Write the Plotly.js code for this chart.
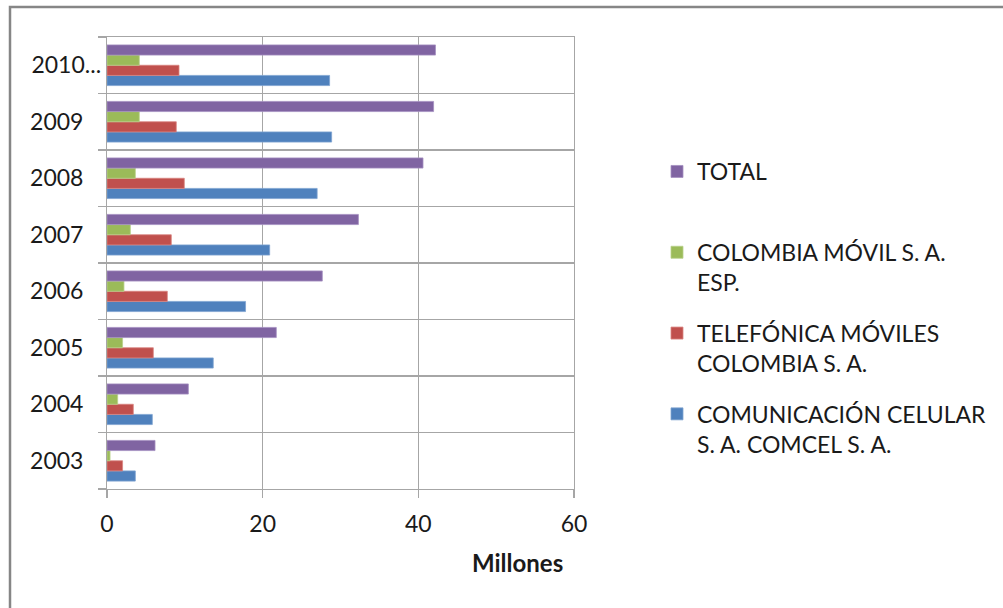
<!DOCTYPE html>
<html>
<head>
<meta charset="utf-8">
<script src="https://cdn.plot.ly/plotly-3.0.1.min.js"></script>
<style>html,body{margin:0;padding:0;background:#fff;overflow:hidden}</style>
</head>
<body>
<div id="chart" style="width:1003px;height:608px"></div>
<script>
const years = ["2003", "2004", "2005", "2006", "2007", "2008", "2009", "2010"];
const yearLabels = ["2003\u00a0\u00a0\u00a0", "2004\u00a0\u00a0\u00a0", "2005\u00a0\u00a0\u00a0", "2006\u00a0\u00a0\u00a0", "2007\u00a0\u00a0\u00a0", "2008\u00a0\u00a0\u00a0", "2009\u00a0\u00a0\u00a0", "2010..."];
const comcel = [3.64, 5.82, 13.65, 17.8, 20.9, 27.0, 28.86, 28.6];
const telefonica = [2.0, 3.38, 5.95, 7.75, 8.26, 9.93, 8.9, 9.25];
const colombiaMovil = [0.39, 1.37, 2.0, 2.18, 3.0, 3.64, 4.15, 4.15];
const total = [6.17, 10.45, 21.75, 27.66, 32.3, 40.6, 41.96, 42.2];
const xTicks = [0, 20, 40, 60];

const names = [
  "COMUNICACIÓN CELULAR<br>S. A. COMCEL S. A.",
  "TELEFÓNICA MÓVILES<br>COLOMBIA S. A.",
  "COLOMBIA MÓVIL S. A.<br>ESP.",
  "TOTAL<br>\u00a0"
];
const colors = ["#4F81BD", "#C0504D", "#9BBB59", "#8064A2"];
const lineColors = ["#7FA3D1", "#D98582", "#B9D18A", "#A48FC0"];
const ranks = [4, 3, 2, 1];
const series = [comcel, telefonica, colombiaMovil, total];

const traces = series.map((vals, i) => ({
  type: "bar",
  orientation: "h",
  y: years,
  x: vals,
  name: names[i],
  legendgroup: "g" + i,
  legendrank: ranks[i],
  marker: {color: colors[i], line: {color: lineColors[i], width: 0.8}},
  hoverinfo: "x+y"
}));

const L = 107, R = 574, T = 37, B = 489;
const W = 1003, H = 608;
const pw = R - L, ph = B - T;
const px = v => (v - L) / pw;
const py = v => (B - v) / ph;

const layout = {
  width: W, height: H,
  margin: {l: L, r: W - R, t: T, b: H - B, pad: 0, autoexpand: false},
  paper_bgcolor: "#ffffff",
  plot_bgcolor: "#ffffff",
  font: {family: "Lato, 'Open Sans', sans-serif", size: 23, color: "#1a1a1a"},
  barmode: "group",
  bargap: 0.28,
  bargroupgap: 0,
  showlegend: true,
  legend: {
    x: px(657), xanchor: "left",
    y: py(150), yanchor: "top",
    traceorder: "grouped",
    tracegroupgap: 18,
    valign: "top",
    font: {family: "Lato, 'Open Sans', sans-serif", size: 23, color: "#1a1a1a"},
    bgcolor: "rgba(0,0,0,0)"
  },
  xaxis: {
    range: [0, 60],
    tickvals: xTicks,
    ticktext: xTicks.map(String),
    showgrid: true,
    gridcolor: "#a6a6a6",
    gridwidth: 1.3,
    zeroline: false,
    showline: true,
    linecolor: "#a6a6a6",
    linewidth: 1.3,
    mirror: true,
    ticks: "outside",
    ticklen: 8,
    tickwidth: 1.3,
    tickcolor: "#a6a6a6",
    ticklabelstandoff: 6,
    tickfont: {size: 23, color: "#1a1a1a"},
    fixedrange: true
  },
  yaxis: {
    type: "category",
    tickvals: years,
    ticktext: yearLabels,
    tickson: "boundaries",
    showgrid: true,
    gridcolor: "#a6a6a6",
    gridwidth: 1.3,
    showline: true,
    linecolor: "#a6a6a6",
    linewidth: 1.3,
    mirror: true,
    ticks: "outside",
    ticklen: 8,
    tickwidth: 1.3,
    tickcolor: "#a6a6a6",
    ticklabelstandoff: 0,
    tickfont: {size: 23, color: "#1a1a1a"},
    fixedrange: true
  },
  annotations: [{
    text: "<b>Millones</b>",
    xref: "paper", yref: "paper",
    x: px(517), y: py(562),
    xanchor: "center", yanchor: "middle",
    showarrow: false,
    font: {family: "Lato, 'Open Sans', sans-serif", size: 24, color: "#1a1a1a"}
  }],
  shapes: [{
    type: "rect", xref: "paper", yref: "paper",
    x0: px(10), x1: px(1100), y0: py(700), y1: py(7),
    line: {color: "#868686", width: 2.5},
    fillcolor: "rgba(0,0,0,0)",
    layer: "below"
  }]
};

Plotly.newPlot("chart", traces, layout, {displayModeBar: false, staticPlot: true});
</script>
</body>
</html>
